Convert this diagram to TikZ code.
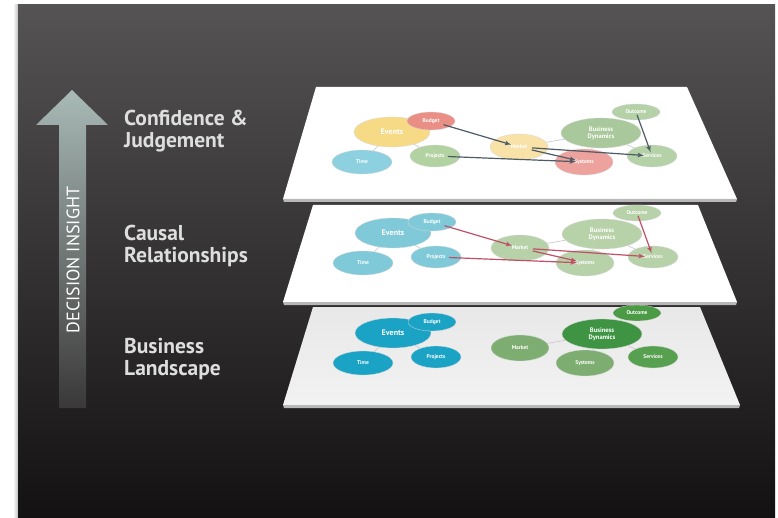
\documentclass[tikz,border=0pt]{standalone}
\usepackage{fontspec}
\setsansfont{PT Sans}
\usetikzlibrary{shapes.geometric}
\usetikzlibrary{arrows}

\definecolor{bgtop}{HTML}{565354}
\definecolor{bgmid}{HTML}{353233}
\definecolor{bgbot}{HTML}{141112}
\definecolor{labeltext}{HTML}{DEDEDE}
\definecolor{shafttop}{HTML}{A9BAB7}
\definecolor{shaftbot}{HTML}{3A3838}

% colours of the business landscape
\definecolor{bevents}{HTML}{1BA3C6}
\colorlet{bbudget}{bevents}
\colorlet{btime}{bevents}
\colorlet{bprojects}{bevents}
\definecolor{bmarket}{HTML}{7DAD70}
\colorlet{bsystems}{bmarket}
\definecolor{bdynamics}{HTML}{3F9444}
\definecolor{boutcome}{HTML}{4B9A46}
\definecolor{bservices}{HTML}{56A050}
% colours of the causal relationships
\definecolor{cevents}{HTML}{80C9D9}
\colorlet{cbudget}{cevents}
\colorlet{ctime}{cevents}
\colorlet{cprojects}{cevents}
\definecolor{cmarket}{HTML}{B7D1A8}
\colorlet{csystems}{cmarket}
\colorlet{cdynamics}{cmarket}
\colorlet{coutcome}{cmarket}
\colorlet{cservices}{cmarket}
\definecolor{cflow}{HTML}{C04F68}
% colours of confidence and judgement
\definecolor{tevents}{HTML}{F7DA86}
\definecolor{tbudget}{HTML}{EA8F86}
\definecolor{ttime}{HTML}{8DD0E0}
\definecolor{tprojects}{HTML}{B3D2A2}
\definecolor{tmarket}{HTML}{F9E2A8}
\definecolor{tsystems}{HTML}{EDA29D}
\definecolor{tdynamics}{HTML}{A9C89B}
\definecolor{toutcome}{HTML}{B5D1A7}
\colorlet{tservices}{toutcome}
\definecolor{tflow}{HTML}{4D5B66}

% the nine spots of one map, #1 = prefix of names and colours
\newcommand{\mapnodes}[1]{
  \node[spot, fill=#1events, minimum width=76pt, minimum height=30pt, font=\sffamily\bfseries\fontsize{8}{9}\selectfont] (#1events) at (393,333) {Events};
  \node[spot, fill=#1time, minimum width=60pt, minimum height=24pt] (#1time) at (363,363) {Time};
  \node[spot, fill=#1projects, minimum width=50pt, minimum height=22pt] (#1projects) at (436,357) {Projects};
  \node[spot, fill=#1budget, minimum width=48pt, minimum height=18pt] (#1budget) at (432,322) {Budget};
  \node[spot, fill=#1dynamics, minimum width=80pt, minimum height=30pt, font=\sffamily\bfseries\fontsize{6.5}{7}\selectfont] (#1dynamics) at (602,334) {Business\\Dynamics};
  \node[spot, fill=#1outcome, minimum width=48pt, minimum height=16pt] (#1outcome) at (637,313) {Outcome};
  \node[spot, fill=#1market, minimum width=58pt, minimum height=26pt] (#1market) at (520,348) {Market};
  \node[spot, fill=#1systems, minimum width=58pt, minimum height=26pt] (#1systems) at (585,363) {Systems};
  \node[spot, fill=#1services, minimum width=50pt, minimum height=22pt] (#1services) at (653,357) {Services};
  \draw[link] (#1events) -- (#1time);
  \draw[link] (#1events) -- (#1projects);
  \draw[link] (#1market) -- (#1dynamics);
  \draw[link] (#1dynamics) -- (#1systems);
  \draw[link] (#1dynamics) -- (#1services);
}
% the arrows between the spots
\newcommand{\mapflows}[1]{
  \draw[flow, draw=#1flow] (#1budget.center) -- (#1market.center);
  \draw[flow, draw=#1flow] (#1projects.center) -- (#1systems.center);
  \draw[flow, draw=#1flow] (#1market.center) -- (#1systems.center);
  \draw[flow, draw=#1flow] (#1market.center) -- (#1services.center);
  \draw[flow, draw=#1flow, shorten <=3pt, shorten >=4pt] (#1outcome.center) -- (#1services.center);
}

\begin{document}
\begin{tikzpicture}
[x=1pt, y=-1pt,
every node/.style = {align=center}]
\tikzstyle{spot} = [ellipse, draw=black!15, line width=0.3pt, inner sep=0pt, text=white,
  font=\sffamily\bfseries\fontsize{5.5}{6.5}\selectfont]
\tikzstyle{link} = [draw=gray!45, line width=0.6pt]
\tikzstyle{flow} = [-latex', line width=1.2pt, shorten <=13pt, shorten >=8pt]
\tikzstyle{level} = [anchor=west, align=left, inner sep=0pt, text=labeltext,
  font=\sffamily\bfseries\fontsize{21.5}{22.5}\selectfont]
\tikzstyle{lip} = [fill=black!28]

\useasboundingbox (0,0) rectangle (778,518);
\fill[white] (0,0) rectangle (778,518);
\shade[left color=white, right color=black!25] (13,5) rectangle (18,518);
\shade[top color=bgtop, middle color=bgmid, bottom color=bgbot] (18,5) rectangle (775,518);

% decision insight arrow
\shade[top color=shafttop, bottom color=shaftbot]
  (72,90) -- (108,125) -- (86,125) -- (86,408) -- (59,408) -- (59,125) -- (36,125) -- cycle;
\node[rotate=90, text=white, font=\sffamily\fontsize{18}{20}\selectfont] (insight) at (73,260) {DECISION INSIGHT};

\node[level] (judgement) at (124,131) {Confidence \&\\Judgement};
\node[level] (causal) at (124,246) {Causal\\Relationships};
\node[level] (landscape) at (124,359) {Business\\Landscape};

% business landscape
\shade[top color=black!9, bottom color=black!5] (313,307) -- (700,307) -- (740,405) -- (283,405) -- cycle;
\fill[lip] (283,405) -- (740,405) -- (739,408) -- (284,408) -- cycle;
\mapnodes{b}

% causal relationships
\fill[white] (313,205) -- (698,205) -- (737,302) -- (283,302) -- cycle;
\fill[lip] (283,302) -- (737,302) -- (736,305) -- (284,305) -- cycle;
\begin{scope}[shift={(0,-100)}]
\mapnodes{c}
\mapflows{c}
\end{scope}

% confidence and judgement
\fill[white] (316,87) -- (687,87) -- (737,199) -- (283,199) -- cycle;
\fill[lip] (283,199) -- (737,199) -- (736,202) -- (284,202) -- cycle;
\begin{scope}[shift={(-1,-201)}]
\mapnodes{t}
\mapflows{t}
\end{scope}

\end{tikzpicture}
\end{document}
